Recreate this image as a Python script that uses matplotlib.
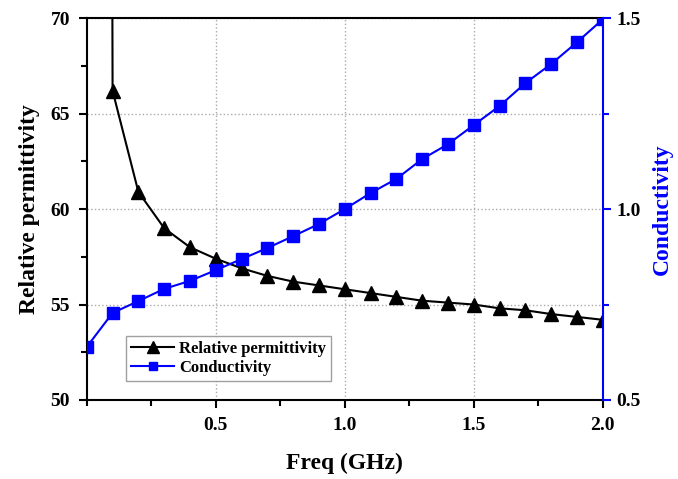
import numpy as np
import matplotlib
matplotlib.use("Agg")
import matplotlib.pyplot as plt
from matplotlib.ticker import MultipleLocator

plt.rcParams['font.family'] = ['Liberation Serif', 'DejaVu Serif']
plt.rcParams['font.weight'] = 'bold'

# frequency sweep (GHz)
freq = [0.0, 0.1, 0.2, 0.3, 0.4, 0.5, 0.6, 0.7, 0.8, 0.9, 1.0,
        1.1, 1.2, 1.3, 1.4, 1.5, 1.6, 1.7, 1.8, 1.9, 2.0]
# first permittivity point is far off the top of the axis
permittivity = [600.0, 66.2, 60.9, 59.0, 58.0, 57.4, 56.9, 56.5, 56.2, 56.0, 55.8,
                55.6, 55.4, 55.2, 55.1, 55.0, 54.8, 54.7, 54.5, 54.35, 54.2]
conductivity = [0.639, 0.728, 0.759, 0.791, 0.812, 0.840, 0.869, 0.898, 0.929, 0.961, 1.0,
                1.042, 1.079, 1.131, 1.170, 1.220, 1.270, 1.330, 1.380, 1.437, 1.497]

xticks = [0.5, 1.0, 1.5, 2.0]
xtick_labels = ['0.5', '1.0', '1.5', '2.0']

fig = plt.figure(figsize=(6.78, 4.79), dpi=100)
ax = fig.add_axes([0.128, 0.165, 0.761, 0.797])
ax2 = ax.twinx()

l1, = ax.plot(freq, permittivity, color='black', lw=1.5, marker='^', ms=10,
              label='Relative permittivity', zorder=3)
l2, = ax2.plot(freq, conductivity, color='blue', lw=1.5, marker='s', ms=8,
               label='Conductivity', zorder=3)

ax.set_xlim(0, 2.0)
ax.set_ylim(50, 70)
ax2.set_ylim(0.5, 1.5)

ax.set_xticks(xticks)
ax.set_xticklabels(xtick_labels)
ax.xaxis.set_minor_locator(MultipleLocator(0.25))
ax.set_yticks([50, 55, 60, 65, 70])
ax.yaxis.set_minor_locator(MultipleLocator(2.5))
ax2.set_yticks([0.5, 1.0, 1.5])
ax2.yaxis.set_minor_locator(MultipleLocator(0.25))

ax.tick_params(axis='both', which='major', direction='out', length=6, width=1.5,
               labelsize=14, pad=6)
ax.tick_params(axis='both', which='minor', direction='out', length=4, width=1.5)
ax2.tick_params(axis='y', which='major', direction='out', length=6, width=1.5,
                labelsize=14, colors='blue', labelcolor='black', pad=4)
ax2.tick_params(axis='y', which='minor', direction='out', length=4, width=1.5,
                colors='blue')

ax.grid(True, which='major', linestyle=':', color='#aaaaaa', lw=1.0)

for s in ['left', 'top', 'bottom']:
    ax.spines[s].set_linewidth(1.5)
ax.spines['right'].set_visible(False)
for s in ['left', 'top', 'bottom']:
    ax2.spines[s].set_visible(False)
ax2.spines['right'].set_color('blue')
ax2.spines['right'].set_linewidth(1.5)

ax.set_xlabel('Freq (GHz)', fontsize=17, fontweight='bold', labelpad=14)
ax.set_ylabel('Relative permittivity', fontsize=17, fontweight='bold', labelpad=8)
ax2.set_ylabel('Conductivity', fontsize=17, fontweight='bold', color='blue',
               labelpad=8)

leg = ax2.legend(handles=[l1, l2], loc='lower left', bbox_to_anchor=(0.06, 0.027),
                 fontsize=12, frameon=True, fancybox=False, edgecolor='#888888',
                 handlelength=2.6, borderpad=0.3, labelspacing=0.2,
                 handletextpad=0.3, markerscale=0.8)
leg.get_frame().set_linewidth(1.0)
for t in leg.get_texts():
    t.set_fontweight('bold')

fig.savefig('out.png', dpi=100)
